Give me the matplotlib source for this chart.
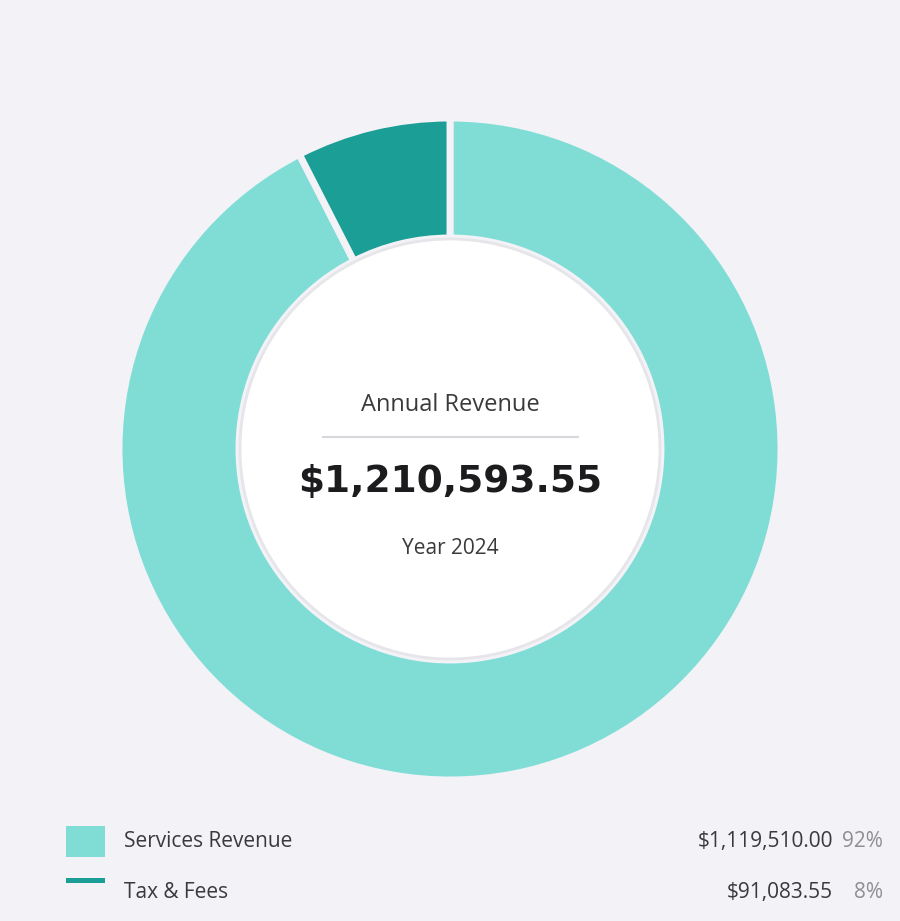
import matplotlib
matplotlib.use("Agg")
import matplotlib.pyplot as plt
from matplotlib.patches import Circle, Rectangle

categories = ["Services Revenue", "Tax & Fees"]
values = [1119510.00, 91083.55]
value_labels = ["$1,119,510.00", "$91,083.55"]
pct_labels = ["92%", "8%"]
colors = ["#7fddd6", "#1a9e96"]
total_label = "$1,210,593.55"
title = "Annual Revenue"
subtitle = "Year 2024"

bg = "#f2f2f7"
fig = plt.figure(figsize=(9, 9.21), dpi=100, facecolor=bg)
ax = fig.add_axes([0, 0, 1, 1])
ax.set_xlim(0, 900); ax.set_ylim(0, 921); ax.axis("off")
ax.set_facecolor(bg)
H = 921
cx, cy = 450, H - 449
ax.pie(values, colors=colors, center=(cx, cy), radius=331, startangle=90,
       counterclock=False, wedgeprops=dict(width=120, edgecolor=bg, linewidth=5))
ax.set_xlim(0, 900); ax.set_ylim(0, 921); ax.set_aspect("auto")
ax.add_patch(Circle((cx, cy), 210, facecolor="white", edgecolor="#e6e6ea", linewidth=2, zorder=5))
fam = ["Open Sans", "DejaVu Sans"]
ax.text(cx, H - 405, title, ha="center", va="center", fontsize=17, color="#3a3a3c", family=fam, zorder=6)
ax.plot([323, 578], [H - 437, H - 437], color="#d8d8dc", lw=1.5, zorder=6)
ax.text(cx, H - 482, total_label, ha="center", va="center", fontsize=27, fontweight="bold",
        color="#1c1c1e", family="DejaVu Sans", zorder=6)
ax.text(cx, H - 548, subtitle, ha="center", va="center", fontsize=15, color="#3a3a3c", family=fam, zorder=6)

# legend
ax.add_patch(Rectangle((66, H - 857), 39, 31, facecolor=colors[0]))
ax.add_patch(Rectangle((66, H - 883), 39, 5, facecolor=colors[1]))
ys = [841, 892]
for i in range(2):
    y = H - ys[i]
    ax.text(124, y, categories[i], ha="left", va="center", fontsize=15, color="#3a3a3c", family=fam)
    ax.text(833, y, value_labels[i], ha="right", va="center", fontsize=15, color="#3a3a3c", family=fam)
    ax.text(883, y, pct_labels[i], ha="right", va="center", fontsize=15, color="#8e8e93", family=fam)

fig.savefig("out.png", dpi=100, facecolor=bg)
